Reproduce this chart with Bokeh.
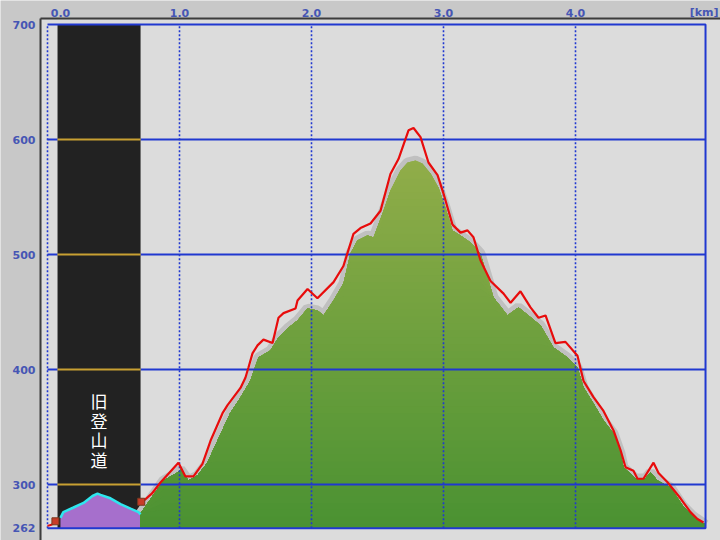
import numpy as np
from bokeh.plotting import figure
from bokeh.models import Range1d
from bokeh.core.properties import value
from bokeh.embed import file_html
from bokeh.resources import INLINE

# ---------------- data ----------------
x_ticks = [0.0, 1.0, 2.0, 3.0, 4.0]
x_tick_labels = ["0.0", "1.0", "2.0", "3.0", "4.0"]
y_ticks = [700, 600, 500, 400, 300, 262]
y_tick_labels = ["700", "600", "500", "400", "300", "262"]
x_unit = "[km]"
x_max = 4.985
y_min, y_max = 262, 700

old_trail_start, old_trail_end = 0.076, 0.705
old_trail_label = "旧登山道"

# old trail profile (purple / cyan)
old_km = [0.098, 0.12, 0.197, 0.273, 0.341, 0.379, 0.402, 0.477, 0.553, 0.629, 0.689, 0.705]
old_elev = [271, 276, 280, 284, 290, 292, 291, 288, 283, 279, 276, 274]

# lead-in of the route before the old trail
lead_km = [0.0, 0.03, 0.07]
lead_elev = [264, 265, 268]

# route elevation (red line)
route_km = [0.705, 0.79, 0.856, 0.992, 1.045, 1.106, 1.174, 1.235, 1.326, 1.364, 1.462, 1.5,
            1.523, 1.553, 1.591, 1.636, 1.705, 1.75, 1.788, 1.879, 1.894, 1.970, 2.045, 2.167,
            2.242, 2.318, 2.371, 2.447, 2.523, 2.598, 2.659, 2.735, 2.773, 2.826, 2.886, 2.955,
            3.0, 3.068, 3.129, 3.182, 3.227, 3.280, 3.356, 3.455, 3.508, 3.583, 3.659, 3.720,
            3.773, 3.848, 3.924, 4.015, 4.061, 4.136, 4.212, 4.288, 4.341, 4.379, 4.439, 4.470,
            4.515, 4.591, 4.629, 4.697, 4.795, 4.871, 4.924, 4.970]
route_elev = [283.5, 292, 301.7, 319, 307, 307, 318, 338, 362, 369, 384, 393,
              402, 414, 421, 426, 423, 445, 449, 453, 460, 470, 462, 476,
              490, 518, 523, 527, 538, 570, 583, 608, 610, 602, 580, 569,
              553, 526, 519, 521, 515, 495, 477, 466, 458, 468, 454, 445,
              447, 423, 424, 412, 390, 376, 364, 347, 330, 315, 312, 305,
              305, 319, 310, 302, 288, 276, 270, 267]

# ground profile (green area)
ground_km = [0.705, 0.879, 0.985, 1.008, 1.068, 1.136, 1.212, 1.288, 1.386, 1.462, 1.538, 1.598,
             1.689, 1.750, 1.818, 1.894, 1.970, 2.045, 2.091, 2.167, 2.242, 2.295, 2.348, 2.424,
             2.470, 2.538, 2.598, 2.674, 2.727, 2.788, 2.841, 2.902, 2.962, 3.015, 3.068, 3.129,
             3.205, 3.280, 3.379, 3.485, 3.568, 3.644, 3.735, 3.833, 3.939, 4.015, 4.061, 4.136,
             4.212, 4.288, 4.341, 4.364, 4.455, 4.530, 4.568, 4.621, 4.720, 4.811, 4.886, 4.962,
             4.985]
ground_elev = [275, 303.5, 310.4, 313, 303.5, 307.8, 319.1, 338.3, 362.6, 375.7, 390.4, 410.4,
               416.5, 427.8, 435.7, 442.6, 453, 451.3, 447, 460, 474.8, 500.9, 512.2, 516.5,
               514.8, 535.6, 555.6, 573, 580, 581.7, 579.1, 570.4, 558.3, 540.9, 520.9, 516.5,
               510.4, 500.9, 462.6, 447, 454, 447, 438.3, 419.1, 410.4, 401.7, 384.3, 370.4,
               355.7, 344.3, 327, 314.8, 305.2, 305.2, 310.4, 303.5, 297.4, 281.7, 273.0, 266.9,
               265]

# hiker icons
icon_km = [0.06, 0.71]
icon_elev = [268, 285]

# ---------------- layout helpers (page pixels -> data) ----------------
PX0, PXK = 47.0, 132.0          # x pixel of 0 km, pixels per km
PY0, PYM = 24.0, 115.0 / 100.0  # y pixel of 700 m, pixels per metre


def px2km(px):
    return (px - PX0) / PXK


def py2el(py):
    return 700 - (py - PY0) / PYM


W, H = 720, 540
OUTER = "#c8c8c8"
INNER = "#dcdcdc"
BLUE = "#2038d0"
GOLD = "#c8a032"
LBL = "#4656b4"

p = figure(width=W, height=H, output_backend="svg", toolbar_location=None,
           x_range=Range1d(px2km(0), px2km(W)), y_range=Range1d(py2el(H), py2el(0)),
           x_axis_type=None, y_axis_type=None, min_border=0,
           background_fill_color=OUTER, border_fill_color=OUTER, outline_line_color=None)
p.grid.visible = False

# inner light panel and dark border
p.quad(left=[px2km(41)], right=[px2km(740)], top=[py2el(19)], bottom=[py2el(560)],
       fill_color=INNER, line_color=None)
p.segment(x0=[px2km(40), px2km(40)], y0=[py2el(18), py2el(18)],
          x1=[px2km(40), px2km(740)], y1=[py2el(560), py2el(18)],
          line_color="#3c3c3c", line_width=2)

# old trail black box
p.quad(left=[old_trail_start], right=[old_trail_end], top=[y_max], bottom=[y_min],
       fill_color="#222222", line_color=None)

# old trail profile
p.varea(x=old_km, y1=y_min, y2=old_elev, fill_color="#a66fcc")

# ground shadow
p.line(ground_km, ground_elev, line_color="#c0c0c0", line_width=10)

# ground with vertical colour gradient (stacked bands)
g_km = np.array(ground_km)
g_el = np.array(ground_elev)
bot_c = np.array([74, 146, 50])
top_c = np.array([146, 174, 74])
g_top = 590.0
for top in np.arange(g_top, y_min, -6.0):
    t = (top - y_min) / (g_top - y_min)
    c = (bot_c + (top_c - bot_c) * t).astype(int)
    col = "#%02x%02x%02x" % tuple(c)
    p.varea(x=g_km, y1=y_min, y2=np.minimum(g_el, top), fill_color=col)

# horizontal grid lines (blue outside the box, gold inside)
grid_y = [v for v in y_ticks if y_min < v < y_max]
p.segment(x0=[0.0] * len(grid_y), x1=[old_trail_start] * len(grid_y), y0=grid_y, y1=grid_y,
          line_color=BLUE, line_width=2)
p.segment(x0=[old_trail_end] * len(grid_y), x1=[x_max] * len(grid_y), y0=grid_y, y1=grid_y,
          line_color=BLUE, line_width=2)
p.segment(x0=[old_trail_start] * len(grid_y), x1=[old_trail_end] * len(grid_y), y0=grid_y,
          y1=grid_y, line_color=GOLD, line_width=2)

# vertical dotted grid lines
p.segment(x0=x_ticks, x1=x_ticks, y0=[y_min] * len(x_ticks), y1=[y_max] * len(x_ticks),
          line_color=BLUE, line_width=1.6, line_dash="2 2")

# frame (top, right, bottom)
p.line([0.0, x_max, x_max, 0.0], [y_max, y_max, y_min, y_min], line_color=BLUE, line_width=2)

# lines on top
p.line(old_km, old_elev, line_color="#2ee6ee", line_width=2.5)
p.line(lead_km, lead_elev, line_color="#e80c0c", line_width=2)
p.line(route_km, route_elev, line_color="#e80c0c", line_width=2.2)

# hiker icons (simplified)
p.scatter(icon_km, icon_elev, marker="square", size=7, fill_color="#c83c28", line_color="#7a3a20")

# vertical label in the box: one character per row
chars = list(old_trail_label)
char_py = [400 + 19.5 * i for i in range(len(chars))]
p.text(x=[(old_trail_start + old_trail_end) / 2] * len(chars), y=[py2el(v) for v in char_py],
       text=chars, text_color="white", text_font=value("Noto Sans CJK JP"),
       text_font_size="17px", text_align="center", text_baseline="middle")

# tick labels
x_off = [13, 0, 0, 0, 0]
p.text(x=x_ticks, y=[py2el(12)] * len(x_ticks), text=x_tick_labels, x_offset=x_off,
       text_color=LBL, text_font=value("DejaVu Sans"), text_font_style="bold",
       text_font_size="11px", text_align="center", text_baseline="middle")
p.text(x=[px2km(718)], y=[py2el(12)], text=[x_unit],
       text_color=LBL, text_font=value("DejaVu Sans"), text_font_style="bold",
       text_font_size="11px", text_align="right", text_baseline="middle")
p.text(x=[px2km(35)] * len(y_ticks), y=y_ticks, text=y_tick_labels,
       text_color=LBL, text_font=value("DejaVu Sans"), text_font_style="bold",
       text_font_size="11px", text_align="right", text_baseline="middle")

open("out.html", "w").write(file_html(p, INLINE))
